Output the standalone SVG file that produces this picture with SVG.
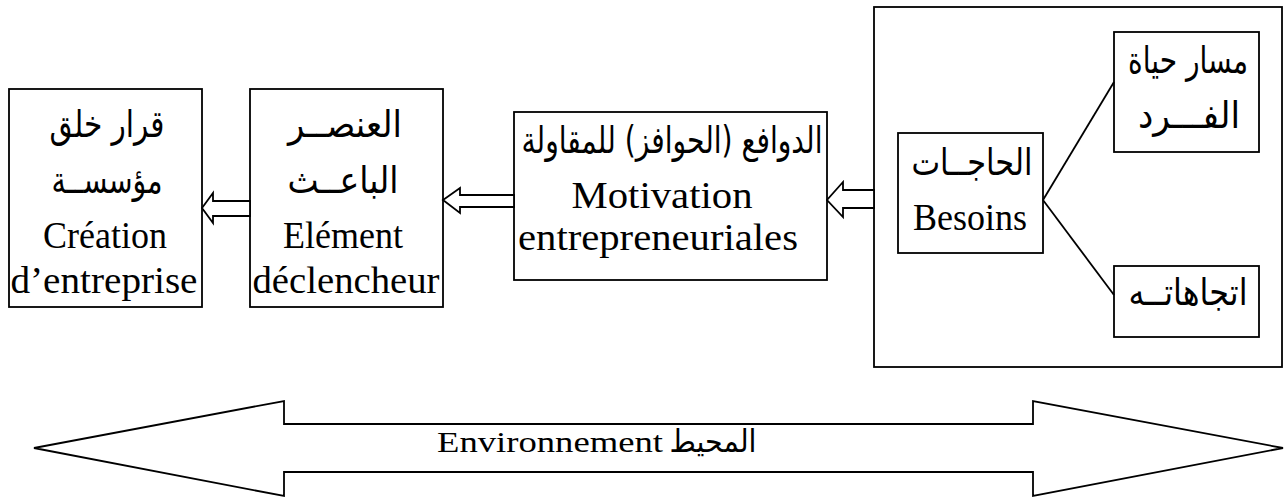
<svg xmlns="http://www.w3.org/2000/svg" width="1285" height="498" viewBox="0 0 1285 498">
  <style>
    .box { fill: #fff; stroke: #000; stroke-width: 1.8; }
    .conn { fill: #fff; stroke: #000; stroke-width: 1.8; stroke-linejoin: miter; }
    .line { fill: none; stroke: #000; stroke-width: 1.8; }
    .lat { font-family: "Liberation Serif", "Times New Roman", serif; font-size: 38px; fill: #000; text-anchor: middle; }
    .ar { font-family: "DejaVu Sans", "Noto Sans", sans-serif; font-size: 37px; fill: #000; text-anchor: middle; direction: rtl; }
  </style>

  <!-- outer frame grouping needs and its sources -->
  <g id="needs-frame">
    <rect class="box" x="874" y="7" width="408" height="360"/>
  </g>

  <g id="besoins">
    <rect class="box" x="898" y="133" width="145" height="120"/>
    <text class="ar" x="972" y="175" textLength="121" lengthAdjust="spacingAndGlyphs">الحاجــات</text>
    <text class="lat" x="970" y="230" textLength="114" lengthAdjust="spacingAndGlyphs">Besoins</text>
  </g>

  <g id="parcours">
    <rect class="box" x="1114" y="32" width="145" height="120"/>
    <text class="ar" x="1188" y="73" textLength="120" lengthAdjust="spacingAndGlyphs">مسار حياة</text>
    <text class="ar" x="1189" y="128" textLength="102" lengthAdjust="spacingAndGlyphs">الفـــرد</text>
  </g>

  <g id="tendances">
    <rect class="box" x="1114" y="266" width="145" height="71"/>
    <text class="ar" x="1188" y="305" textLength="119" lengthAdjust="spacingAndGlyphs">اتجاهاتــه</text>
  </g>

  <g id="motivation">
    <rect class="box" x="514" y="112" width="313" height="168"/>
    <text class="ar" x="672" y="153" textLength="301" lengthAdjust="spacingAndGlyphs">الدوافع (الحوافز) للمقاولة</text>
    <text class="lat" x="662" y="208" textLength="181" lengthAdjust="spacingAndGlyphs">Motivation</text>
    <text class="lat" x="658" y="250" textLength="280" lengthAdjust="spacingAndGlyphs">entrepreneuriales</text>
  </g>

  <g id="declencheur">
    <rect class="box" x="250" y="89" width="193" height="218"/>
    <text class="ar" x="345" y="137" textLength="114" lengthAdjust="spacingAndGlyphs">العنصــر</text>
    <text class="ar" x="343" y="193" textLength="111" lengthAdjust="spacingAndGlyphs">الباعــث</text>
    <text class="lat" x="343" y="248" textLength="120" lengthAdjust="spacingAndGlyphs">Elément</text>
    <text class="lat" x="346" y="293" textLength="187" lengthAdjust="spacingAndGlyphs">déclencheur</text>
  </g>

  <g id="creation">
    <rect class="box" x="9" y="89" width="193" height="218"/>
    <text class="ar" x="107" y="137" textLength="115" lengthAdjust="spacingAndGlyphs">قرار خلق</text>
    <text class="ar" x="107" y="193" textLength="111" lengthAdjust="spacingAndGlyphs">مؤسســة</text>
    <text class="lat" x="105" y="248" textLength="124" lengthAdjust="spacingAndGlyphs">Création</text>
    <text class="lat" x="104" y="293" textLength="187" lengthAdjust="spacingAndGlyphs">d’entreprise</text>
  </g>

  <!-- connectors: hollow block arrows and branch lines -->
  <g id="connectors">
    <line class="line" x1="1043" y1="200" x2="1114" y2="82"/>
    <line class="line" x1="1043" y1="200" x2="1114" y2="295"/>
    <polygon class="conn" points="874,190 843,190 843,182 827,200 843,217 843,208 874,208"/>
    <polygon class="conn" points="514,195 460,195 460,188 443,200 460,213 460,207 514,207"/>
    <polygon class="conn" points="250,201 213,201 213,193 202,208 213,223 213,216 250,216"/>
  </g>

  <!-- environment double arrow -->
  <g id="environnement">
    <polygon class="conn" points="34,448 284,401 284,424 1033,424 1033,401 1283,448 1033,496 1033,472 284,472 284,496"/>
    <text x="437" y="452" font-family="Liberation Serif, serif" font-size="30" textLength="226" lengthAdjust="spacingAndGlyphs">Environnement</text>
    <text class="ar" x="713" y="452" style="font-size:31px" textLength="87" lengthAdjust="spacingAndGlyphs">المحيط</text>
  </g>
</svg>
